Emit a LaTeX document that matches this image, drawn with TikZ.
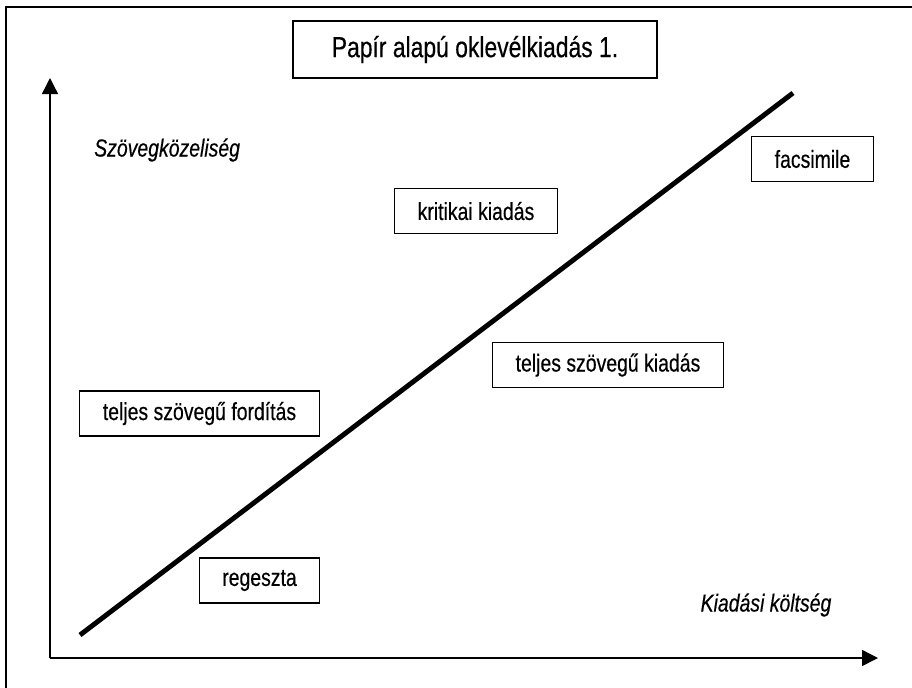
\documentclass[tikz,border=0pt]{standalone}
\usepackage{fontspec}
\setmainfont{Liberation Sans}[FakeStretch=0.79, FakeBold=0.4]
\usetikzlibrary{arrows.meta}

\begin{document}
\begin{tikzpicture}[x=0.02cm, y=-0.02cm]
        \tikzstyle{doboz}=[draw, line width=0.7pt, minimum height=0.9cm, inner xsep=0.46cm, font=\fontsize{14}{17}\selectfont];
        \tikzstyle{cimke}=[font=\fontsize{14}{17}\selectfont\itshape];
        \tikzstyle{tengely}=[line width=0.8pt, -{Triangle[length=0.32cm, width=0.32cm]}];

        \useasboundingbox (0,0) rectangle (912,687);
        \draw[line width=0.9pt] (6,690) -- (6,7) -- (915,7);

        \coordinate (O) at (50,658);
        \coordinate (Y) at (50,78);
        \coordinate (X) at (878,658);
        \draw[tengely] (O) -- (Y);
        \draw[tengely] (O) -- (X);

        \coordinate (D1) at (80,635);
        \coordinate (D2) at (793,93);
        \draw[line width=2.8pt] (D1) -- (D2);

        \node[doboz, minimum height=1.14cm, minimum width=7.28cm, font=\fontsize{16.5}{20}\selectfont] (cim) at (475,49.5) {Papír alapú oklevélkiadás 1.};
        \node[doboz] (kritikai) at (476,211) {kritikai kiadás};
        \node[doboz] (facsimile) at (812.5,159) {facsimile};
        \node[doboz] (forditas) at (199.5,413.5) {teljes szövegű fordítás};
        \node[doboz] (regeszta) at (259.5,580.5) {regeszta};
        \node[doboz] (kiadas) at (608,365) {teljes szövegű kiadás};

        \node[cimke, anchor=west] (szoveg) at (88,150) {Szövegközeliség};
        \node[cimke] (koltseg) at (766,605) {Kiadási költség};
    \end{tikzpicture}
\end{document}
